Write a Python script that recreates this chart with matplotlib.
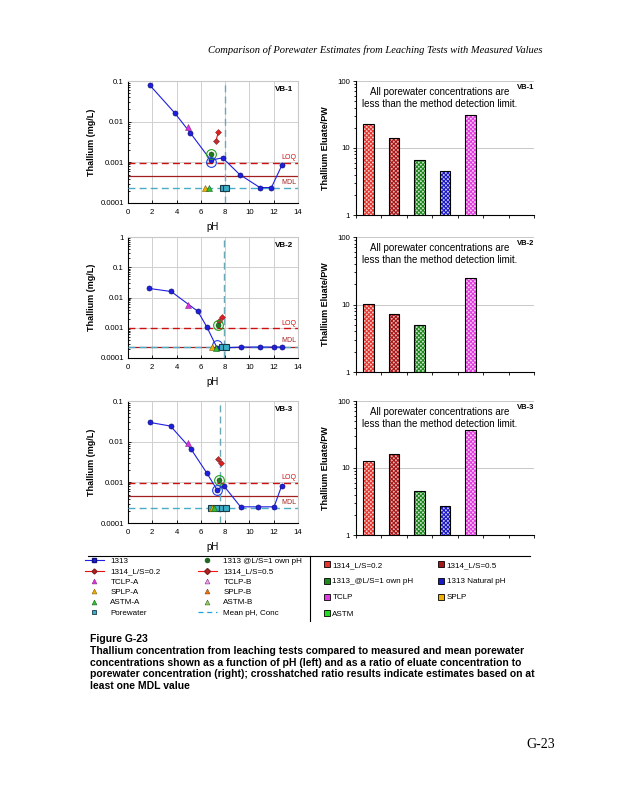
import numpy as np
import matplotlib
matplotlib.use("Agg")
import matplotlib.pyplot as plt
from matplotlib.lines import Line2D
from matplotlib.ticker import LogLocator, NullFormatter, FixedLocator

plt.rcParams['font.family'] = ['Liberation Sans', 'DejaVu Sans']
plt.rcParams['hatch.linewidth'] = 0.8

# ---------------- data ----------------
panels = ["VB-1", "VB-2", "VB-3"]

ph_1313 = [
    [1.78, 3.83, 5.11, 6.81, 7.79, 9.20, 10.86, 11.81, 12.69],
    [1.70, 3.55, 5.75, 6.50, 7.35, 9.30, 10.90, 12.05, 12.65],
    [1.78, 3.50, 5.17, 6.48, 7.33, 7.88, 9.27, 10.70, 12.03, 12.66],
]
conc_1313 = [
    [0.080, 0.0166, 0.0054, 0.00113, 0.00129, 0.00050, 0.00024, 0.00024, 0.00087],
    [0.020, 0.0158, 0.0035, 0.00105, 0.00021, 0.00023, 0.00023, 0.00023, 0.00023],
    [0.0298, 0.0242, 0.0067, 0.00171, 0.00066, 0.00083, 0.00025, 0.00025, 0.00025, 0.00083],
]
ph_own = [6.81, 7.38, 7.52]
conc_own = [0.0016, 0.0012, 0.00113]
ph_nat = [6.81, 7.35, 7.33]
conc_nat = [0.00101, 0.00026, 0.00066]
ph_1314_02 = [7.44, 7.77, 7.63]
conc_1314_02 = [0.0056, 0.0023, 0.0030]
ph_1314_05 = [7.25, 7.47, 7.41]
conc_1314_05 = [0.0034, 0.0017, 0.0037]
ph_tclp_a = [4.92, 4.98, 4.92]
conc_tclp_a = [0.0072, 0.0055, 0.0091]
ph_splp_a = [6.34, 6.90, 6.95]
conc_splp_a = [0.00023, 0.00023, 0.00024]
ph_astm_a = [6.67, 7.25, 7.10]
conc_astm_a = [0.00023, 0.00022, 0.00024]
ph_pw = [[7.80, 8.05], [7.75, 8.05], [6.85, 7.30, 7.75, 8.05]]
conc_pw = [[0.00024, 0.00024], [0.00023, 0.00023], [0.00024, 0.00024, 0.00024, 0.00024]]
mean_ph = [7.98, 7.88, 7.57]
mean_conc = [0.00024, 0.00023, 0.00024]
loq = [0.00099, 0.00095, 0.00099]
mdl = [0.00047, 0.00023, 0.00047]
ymax_left = [0.1, 1.0, 0.1]

bar_cats = ["1314_L/S=0.2", "1314_L/S=0.5", "1313_@L/S=1 own pH", "1313 Natural pH",
            "TCLP", "SPLP", "ASTM"]
bar_vals = [
    [22.8, 14.1, 6.6, 4.5, 31.1, np.nan, np.nan],
    [10.1, 7.3, 5.0, np.nan, 24.7, np.nan, np.nan],
    [12.6, 16.0, 4.6, 2.7, 36.9, np.nan, np.nan],
]
bar_colors = ["#e8342c", "#a81818", "#1e8a1e", "#1a1ac8", "#e23ce0", "#f0b000", "#22dd22"]
bar_tints = ["#f6c8c4", "#e0b8b8", "#c8e4c8", "#c8c8f0", "#f8c8f4", "#fbe8b0", "#c8f8c8"]

note = "All porewater concentrations are\nless than the method detection limit."

# ---------------- figure ----------------
W, H = 618, 800
fig = plt.figure(figsize=(W / 100, H / 100), dpi=100)

def fr(x0, y0, x1, y1):
    return [x0 / W, 1 - y1 / H, (x1 - x0) / W, (y1 - y0) / H]

left_boxes = [(128, 81, 298, 203), (128, 237, 298, 358), (128, 401, 298, 523)]
right_boxes = [(356, 81, 534, 215), (356, 237, 534, 372), (356, 401, 534, 535)]

blue = "#1f1fe0"
navy = "#10107a"
cyan = "#4bacc6"
tfs = 5.6

for i in range(3):
    ax = fig.add_axes(fr(*left_boxes[i]))
    ax.set_yscale('log')
    ax.set_xlim(0, 14)
    ax.set_ylim(1e-4, ymax_left[i])
    ax.set_xticks(range(0, 15, 2))
    decs = [10.0 ** k for k in range(-4, int(round(np.log10(ymax_left[i]))) + 1)]
    ax.yaxis.set_major_locator(FixedLocator(decs))
    ax.set_yticklabels([("%g" % d) if d >= 0.001 else "0.0001" for d in decs])
    ax.yaxis.set_minor_locator(LogLocator(base=10, subs=np.arange(2, 10)))
    ax.yaxis.set_minor_formatter(NullFormatter())
    ax.grid(True, which='major', color='#d0d0d0', lw=0.7)
    ax.set_axisbelow(True)
    ax.tick_params(which='both', direction='in', labelsize=tfs, length=2.5, width=0.6, pad=3)
    ax.tick_params(axis='x', pad=4.5)
    ax.tick_params(which='minor', length=1.5)
    for s in ['top', 'right']:
        ax.spines[s].set_color('#c8c8c8')
    for s in ['left', 'bottom']:
        ax.spines[s].set_linewidth(0.8)
    ax.set_ylabel("Thallium (mg/L)", fontsize=6.5, fontweight='bold', labelpad=3)
    ax.set_xlabel("pH", fontsize=7, labelpad=4)

    # reference lines
    ax.axhline(loq[i], color='#cc1010', ls=(0, (5, 3)), lw=1.0, zorder=2)
    ax.axhline(mdl[i], color='#a02020', ls='-', lw=0.9, zorder=2)
    ax.axhline(mean_conc[i], color=cyan, ls=(0, (5, 3)), lw=1.0, zorder=3)
    ax.axvline(mean_ph[i], color='#6aa8b8', ls=(0, (5, 3)), lw=1.0, zorder=3)
    ax.text(13.9, loq[i] * 1.12, "LOQ", color='#cc1010', fontsize=5, ha='right', va='bottom')
    if i == 1:
        ax.text(13.9, mdl[i] * 1.3, "MDL", color='#a02020', fontsize=5, ha='right', va='bottom')
    else:
        ax.text(13.9, mdl[i] * 0.85, "MDL", color='#a02020', fontsize=5, ha='right', va='top')

    # series
    ax.plot(ph_1313[i], conc_1313[i], '-', color=blue, lw=0.8, marker='o', ms=3.6,
            mfc=blue, mec=navy, mew=0.5, zorder=5)
    ax.plot([ph_1314_05[i], ph_1314_02[i]], [conc_1314_05[i], conc_1314_02[i]], '-',
            color='#e01010', lw=0.8, zorder=5)
    ax.plot([ph_1314_05[i]], [conc_1314_05[i]], 'D', ms=3.0, mfc='#c03030', mec='#802020', mew=0.4, zorder=6)
    ax.plot([ph_1314_02[i]], [conc_1314_02[i]], 'D', ms=3.0, mfc='#e02020', mec='#902020', mew=0.4, zorder=6)
    ax.plot([ph_own[i]], [conc_own[i]], 'o', ms=3.6, mfc='#1e7a1e', mec='#0e4a0e', mew=0.4, zorder=6)
    ax.plot([ph_own[i]], [conc_own[i]], 'o', ms=7, mfc='none', mec='#20a020', mew=0.8, zorder=6)
    ax.plot([ph_nat[i]], [conc_nat[i]], 'o', ms=7, mfc='none', mec='#2040e0', mew=0.8, zorder=6)
    ax.plot([ph_tclp_a[i]], [conc_tclp_a[i]], '^', ms=3.8, mfc='#e030e0', mec='#803080', mew=0.4, zorder=6)
    ax.plot(ph_pw[i], conc_pw[i], 's', ms=5, mfc='#38b0c8', mec='#1a3a4a', mew=0.8, zorder=6)
    ax.plot([ph_splp_a[i]], [conc_splp_a[i]], '^', ms=3.8, mfc='#f0b000', mec='#806000', mew=0.4, zorder=7)
    ax.plot([ph_astm_a[i]], [conc_astm_a[i]], '^', ms=3.8, mfc='#30c030', mec='#206020', mew=0.4, zorder=7)
    ax.text(0.97, 0.96, panels[i], transform=ax.transAxes, ha='right', va='top',
            fontsize=5.8, fontweight='bold')

for i in range(3):
    ax = fig.add_axes(fr(*right_boxes[i]))
    ax.set_yscale('log')
    x = np.arange(len(bar_cats))
    vals = np.array(bar_vals[i], dtype=float)
    for j in range(len(bar_cats)):
        if np.isnan(vals[j]):
            continue
        ax.bar(x[j], vals[j], width=0.42, color=bar_tints[j], edgecolor=bar_colors[j],
               hatch='xxxxxxxx', lw=0, zorder=3)
        ax.bar(x[j], vals[j], width=0.42, fill=False, edgecolor='black', lw=0.8, zorder=4)
    ax.set_xlim(-0.5, len(bar_cats) - 0.5)
    ax.set_ylim(1, 100)
    ax.set_xticks(np.arange(len(bar_cats) + 1) - 0.5)
    ax.set_xticklabels([])
    ax.yaxis.set_major_locator(FixedLocator([1, 10, 100]))
    ax.set_yticklabels(["1", "10", "100"])
    ax.yaxis.set_minor_locator(LogLocator(base=10, subs=np.arange(2, 10)))
    ax.yaxis.set_minor_formatter(NullFormatter())
    ax.grid(True, axis='y', which='major', color='#c8c8c8', lw=0.7)
    ax.set_axisbelow(True)
    ax.tick_params(which='both', direction='out', labelsize=tfs, length=2.5, width=0.6, pad=2)
    ax.tick_params(which='minor', length=1.5)
    ax.spines['top'].set_visible(False)
    ax.spines['right'].set_visible(False)
    ax.spines['left'].set_linewidth(0.8)
    ax.spines['bottom'].set_linewidth(0.8)
    ax.set_ylabel("Thallium Eluate/PW", fontsize=6.5, fontweight='bold', labelpad=5)
    ax.text(0.472, 0.873, note, transform=ax.transAxes, ha='center', va='center',
            fontsize=7.0, linespacing=1.25)
    ax.text(1.0, 0.98, panels[i], transform=ax.transAxes, ha='right', va='top',
            fontsize=5.5, fontweight='bold')

# ---------------- legends ----------------
lh = [
    Line2D([], [], color=blue, lw=0.8, marker='s', ms=3, mfc=blue, mec=navy),
    Line2D([], [], color='#e01010', lw=0.8, marker='D', ms=2.5, mfc='#c02020', mec='#802020'),
    Line2D([], [], ls='none', marker='^', ms=3.5, mfc='#e030e0', mec='#803080', mew=0.4),
    Line2D([], [], ls='none', marker='^', ms=3.5, mfc='#f0b000', mec='#806000', mew=0.4),
    Line2D([], [], ls='none', marker='^', ms=3.5, mfc='#30c030', mec='#206020', mew=0.4),
    Line2D([], [], ls='none', marker='s', ms=3.5, mfc='#38b0c8', mec='#1a3a4a', mew=0.6),
    Line2D([], [], ls='none', marker='o', ms=3.5, mfc='#1e6a1e', mec='#0e4a0e', mew=0.4),
    Line2D([], [], color='#ff1010', lw=0.8, marker='D', ms=3, mfc='#c02020', mec='#802020'),
    Line2D([], [], ls='none', marker='^', ms=3.5, mfc='#f0a0f0', mec='#803080', mew=0.4),
    Line2D([], [], ls='none', marker='^', ms=3.5, mfc='#f07010', mec='#804000', mew=0.4),
    Line2D([], [], ls='none', marker='^', ms=3.5, mfc='#90d060', mec='#406020', mew=0.4),
    Line2D([], [], color='#20a0e0', lw=0.9, ls=(0, (4, 3))),
]
ll = ["1313", "1314_L/S=0.2", "TCLP-A", "SPLP-A", "ASTM-A", "Porewater",
      "1313 @L/S=1 own pH", "1314_L/S=0.5", "TCLP-B", "SPLP-B", "ASTM-B", "Mean pH, Conc"]
fig.legend(lh, ll, ncol=2, loc='upper left', bbox_to_anchor=(83 / W, 1 - 556 / H),
           frameon=False, fontsize=5.8, labelspacing=0.33, handlelength=2.4,
           handletextpad=0.8, columnspacing=4.6, borderaxespad=0, borderpad=0.2)

order = [0, 2, 4, 6, 1, 3, 5]
rh = [Line2D([], [], ls='none', marker='s', ms=4, mfc=bar_colors[k], mec='black', mew=0.6)
      for k in order]
rl = [bar_cats[k] for k in order]
fig.legend(rh, rl, ncol=2, loc='upper left', bbox_to_anchor=(322 / W, 1 - 560 / H),
           frameon=False, fontsize=5.8, labelspacing=1.05, handlelength=0.8,
           handletextpad=0.3, columnspacing=3.0, borderaxespad=0, borderpad=0.2)

fig.add_artist(Line2D([88 / W, 530 / W], [1 - 556 / H, 1 - 556 / H], color='black', lw=0.8,
                      transform=fig.transFigure))
fig.add_artist(Line2D([310 / W, 310 / W], [1 - 556 / H, 1 - 621 / H], color='black', lw=0.8,
                      transform=fig.transFigure))

# ---------------- captions ----------------
fig.text(543 / W, 1 - 50 / H,
         "Comparison of Porewater Estimates from Leaching Tests with Measured Values",
         ha='right', va='center', fontsize=7.6, style='italic', family='Liberation Serif')
fig.text(90 / W, 1 - 639 / H, "Figure G-23", ha='left', va='center', fontsize=7.5,
         fontweight='bold')
fig.text(90 / W, 1 - 646 / H,
         "Thallium concentration from leaching tests compared to measured and mean porewater\n"
         "concentrations shown as a function of pH (left) and as a ratio of eluate concentration to\n"
         "porewater concentration (right); crosshatched ratio results indicate estimates based on at\n"
         "least one MDL value",
         ha='left', va='top', fontsize=7.45, fontweight='bold', linespacing=1.2)
fig.text(555 / W, 1 - 745 / H, "G-23", ha='right', va='center', fontsize=10,
         family='Liberation Serif')

fig.savefig("out.png", dpi=100)
